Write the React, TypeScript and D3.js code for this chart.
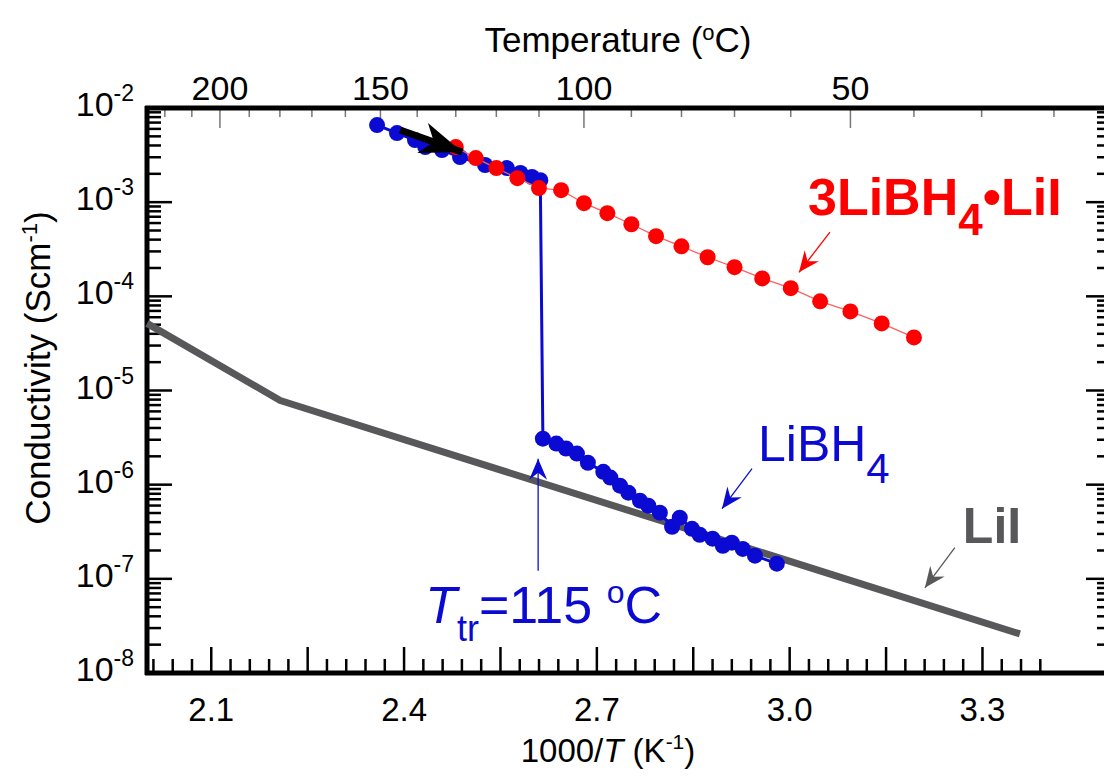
import React from 'react';
import * as d3 from 'd3';

// 3LiBH4·LiI (red)
const redInvT = [2.4805, 2.5116, 2.5436, 2.5763, 2.6099, 2.6444, 2.6799, 2.7163, 2.7537, 2.7921, 2.8316, 2.8723, 2.9142, 2.9573, 3.0017, 3.0474, 3.0945, 3.1432, 3.1934];
const redSigma = [3.85e-3, 2.94e-3, 2.30e-3, 1.80e-3, 1.41e-3, 1.34e-3, 9.75e-4, 7.64e-4, 5.83e-4, 4.35e-4, 3.40e-4, 2.60e-4, 2.04e-4, 1.55e-4, 1.22e-4, 8.85e-5, 6.92e-5, 5.16e-5, 3.66e-5];

// LiBH4 (blue)
const blueInvT = [2.358, 2.389, 2.417, 2.433, 2.459, 2.487, 2.526, 2.560, 2.581, 2.599, 2.612,
    2.616, 2.637, 2.652, 2.669, 2.686, 2.710, 2.721, 2.736, 2.749, 2.767, 2.780, 2.798, 2.817, 2.829, 2.848, 2.860, 2.880, 2.896, 2.910, 2.927, 2.946, 2.980];
const blueSigma = [6.59e-3, 5.42e-3, 4.57e-3, 3.85e-3, 3.57e-3, 3.01e-3, 2.48e-3, 2.30e-3, 2.04e-3, 1.85e-3, 1.71e-3,
    3.08e-6, 2.73e-6, 2.42e-6, 2.14e-6, 1.71e-6, 1.37e-6, 1.19e-6, 9.75e-7, 8.22e-7, 6.76e-7, 5.98e-7, 5.04e-7, 3.57e-7, 4.46e-7, 3.40e-7, 2.94e-7, 2.67e-7, 2.24e-7, 2.42e-7, 2.08e-7, 1.76e-7, 1.45e-7];

// LiI (gray line)
const liiInvT = [2.0, 2.2073, 3.3582];
const liiSigma = [5.16e-5, 7.83e-6, 2.60e-8];

const xTickLabels = ['2.1', '2.4', '2.7', '3.0', '3.3'];
const yDecades = [-8, -7, -6, -5, -4, -3, -2];
const tempLabels = [200, 150, 100, 50];

const font = '"Liberation Sans", Arial, Helvetica, sans-serif';
const BLUE = '#0a0ad2';
const RED = '#ff0000';
const GRAY = '#58585b';

const W = 1104, H = 778;
const x = d3.scaleLinear().domain([2.0, 3.5]).range([147, 1111]);
const y = d3.scaleLog().domain([1e-8, 1e-2]).range([673, 108]);

const toInvT = (c: number) => 1000 / (c + 273.15);

export default function App() {
    const xL = x.range()[0], xR = x.range()[1];
    const yB = y.range()[0], yT = y.range()[1];

    const minorY: number[] = [];
    for (let e = -8; e < -2; e++) for (let m = 2; m <= 9; m++) minorY.push(m * Math.pow(10, e));

    const xTicks = d3.range(0, 47).map(i => 2.01 + i * 0.03).filter(v => v <= 3.5);
    const tempTicks = d3.range(20, 230, 10);

    const blueData = blueInvT.map((v, i) => [v, blueSigma[i]] as [number, number]);
    const redData = redInvT.map((v, i) => [v, redSigma[i]] as [number, number]);
    const liiData = liiInvT.map((v, i) => [v, liiSigma[i]] as [number, number]);

    const line = d3.line<[number, number]>().x(d => x(d[0])).y(d => y(d[1]));

    const arrow = (a: [number, number], b: [number, number], color: string, id: string, w = 1.3) => (
        <line x1={x(a[0])} y1={y(a[1])} x2={x(b[0])} y2={y(b[1])} stroke={color} strokeWidth={w} markerEnd={`url(#${id})`} />
    );

    return (
        <div style={{ position: 'absolute', left: 0, top: 0 }}>
            <svg width={W} height={H} style={{ display: 'block', background: '#fff' }} fontFamily={font}>
                <defs>
                    {[['hBlue', BLUE], ['hRed', RED], ['hGray', GRAY]].map(([id, c]) => (
                        <marker key={id} id={id} markerUnits="userSpaceOnUse" viewBox="-22 -10 24 20" markerWidth={24} markerHeight={20} refX={0} refY={0} orient="auto">
                            <path d="M0,0 L-21,-9 L-14,0 L-21,9 Z" fill={c} />
                        </marker>
                    ))}
                    <marker id="hBlack" markerUnits="userSpaceOnUse" viewBox="-44 -18 46 36" markerWidth={46} markerHeight={36} refX={0} refY={0} orient="auto">
                        <path d="M0,0 L-42,-16 L-30,0 L-42,16 Z" fill="#000" />
                    </marker>
                </defs>

                {/* left & right log ticks */}
                {[xL, xR].map((ax, k) => {
                    const dir = k === 0 ? 1 : -1;
                    return (
                        <g key={k} stroke="#000" strokeWidth={2.5}>
                            {yDecades.map(e => <line key={e} x1={ax} x2={ax + dir * 25} y1={y(Math.pow(10, e))} y2={y(Math.pow(10, e))} />)}
                            {minorY.map((v, i) => <line key={i} x1={ax} x2={ax + dir * 14} y1={y(v)} y2={y(v)} />)}
                        </g>
                    );
                })}

                {/* bottom ticks */}
                <g stroke="#000" strokeWidth={2.5}>
                    {xTicks.map((v, i) => {
                        const major = Math.abs(((v - 2.1) / 0.15) - Math.round((v - 2.1) / 0.15)) < 1e-6;
                        return <line key={i} x1={x(v)} x2={x(v)} y1={yB} y2={yB - (major ? 26 : 14)} />;
                    })}
                </g>

                {/* top temperature ticks */}
                <g stroke="#777" strokeWidth={1.5}>
                    {tempTicks.map(t => (
                        <line key={t} x1={x(toInvT(t))} x2={x(toInvT(t))} y1={yT} y2={yT + (t % 50 === 0 ? 20 : 9)} />
                    ))}
                </g>

                {/* axis frame */}
                <line x1={xL} x2={xL} y1={yT - 2} y2={yB + 2} stroke="#000" strokeWidth={5} />
                <line x1={xR} x2={xR} y1={yT - 2} y2={yB + 2} stroke="#000" strokeWidth={5} />
                <line x1={xL - 2} x2={xR} y1={yB} y2={yB} stroke="#000" strokeWidth={5} />
                <line x1={xL - 2} x2={xR} y1={yT} y2={yT} stroke="#000" strokeWidth={5} />

                {/* y tick labels */}
                {yDecades.map(e => (
                    <text key={e} x={134} y={y(Math.pow(10, e)) + 8} textAnchor="end" fontSize={34} fill="#000">
                        10<tspan dy={-15} fontSize={23}>{`${e}`}</tspan>
                    </text>
                ))}

                {/* x tick labels */}
                {xTickLabels.map(l => (
                    <text key={l} x={x(+l)} y={721} textAnchor="middle" fontSize={33} fill="#000">{l}</text>
                ))}

                {/* top labels */}
                {tempLabels.map(t => (
                    <text key={t} x={x(toInvT(t))} y={100} textAnchor="middle" fontSize={34} fill="#000">{t}</text>
                ))}

                {/* titles */}
                <text x={618} y={52} textAnchor="middle" fontSize={35} fill="#000">
                    Temperature (<tspan dy={-12} fontSize={22}>o</tspan><tspan dy={12}>C)</tspan>
                </text>
                <text x={608} y={762} textAnchor="middle" fontSize={33} fill="#000">
                    1000/<tspan fontStyle="italic">T</tspan> (K<tspan dy={-13} fontSize={21}>-1</tspan><tspan dy={13}>)</tspan>
                </text>
                <text transform="translate(50,368) rotate(-90)" textAnchor="middle" fontSize={35} fill="#000">
                    Conductivity (Scm<tspan dy={-13} fontSize={22}>-1</tspan><tspan dy={13}>)</tspan>
                </text>

                {/* LiI */}
                <path d={line(liiData) || ''} fill="none" stroke={GRAY} strokeWidth={7} strokeLinejoin="round" />

                {/* LiBH4 */}
                <path d={line(blueData) || ''} fill="none" stroke={BLUE} strokeWidth={3} />
                {blueData.map((d, i) => <circle key={i} cx={x(d[0])} cy={y(d[1])} r={8} fill={BLUE} />)}

                {/* 3LiBH4·LiI */}
                <path d={line(redData) || ''} fill="none" stroke="#ff6060" strokeWidth={1.3} />
                {redData.map((d, i) => <circle key={i} cx={x(d[0])} cy={y(d[1])} r={8} fill={RED} />)}

                {/* annotation arrows */}
                {arrow([2.394, 5.83e-3], [2.4904, 3.40e-3], '#000', 'hBlack', 7)}
                {arrow([3.0627, 4.80e-4], [3.0145, 1.80e-4], RED, 'hRed')}
                {arrow([2.9414, 1.48e-6], [2.8947, 5.56e-7], BLUE, 'hBlue')}
                {arrow([3.257, 2.14e-7], [3.2104, 8.02e-8], GRAY, 'hGray')}
                {arrow([2.6086, 1.22e-7], [2.6086, 1.89e-6], BLUE, 'hBlue')}

                {/* annotation labels */}
                <text x={x(3.0285)} y={y(7.28e-4)} fontSize={52} fontWeight="bold" fill={RED}>
                    3LiBH<tspan dy={20} fontSize={44}>4</tspan><tspan dy={-20}>{'\u2022'}LiI</tspan>
                </text>
                <text x={x(2.9507)} y={y(1.80e-6)} fontSize={50} fill={BLUE}>
                    LiBH<tspan dy={22} fontSize={42}>4</tspan>
                </text>
                <text x={x(3.2695)} y={y(2.41e-7)} fontSize={50} fontWeight="bold" fill={GRAY}>LiI</text>
                <text x={x(2.4328)} y={y(3.40e-8)} fontSize={52} fill={BLUE}>
                    <tspan fontStyle="italic">T</tspan><tspan dy={18} fontSize={36}>tr</tspan><tspan dy={-18}>=115 </tspan><tspan dy={-20} fontSize={32}>o</tspan><tspan dy={20}>C</tspan>
                </text>
            </svg>
        </div>
    );
}
